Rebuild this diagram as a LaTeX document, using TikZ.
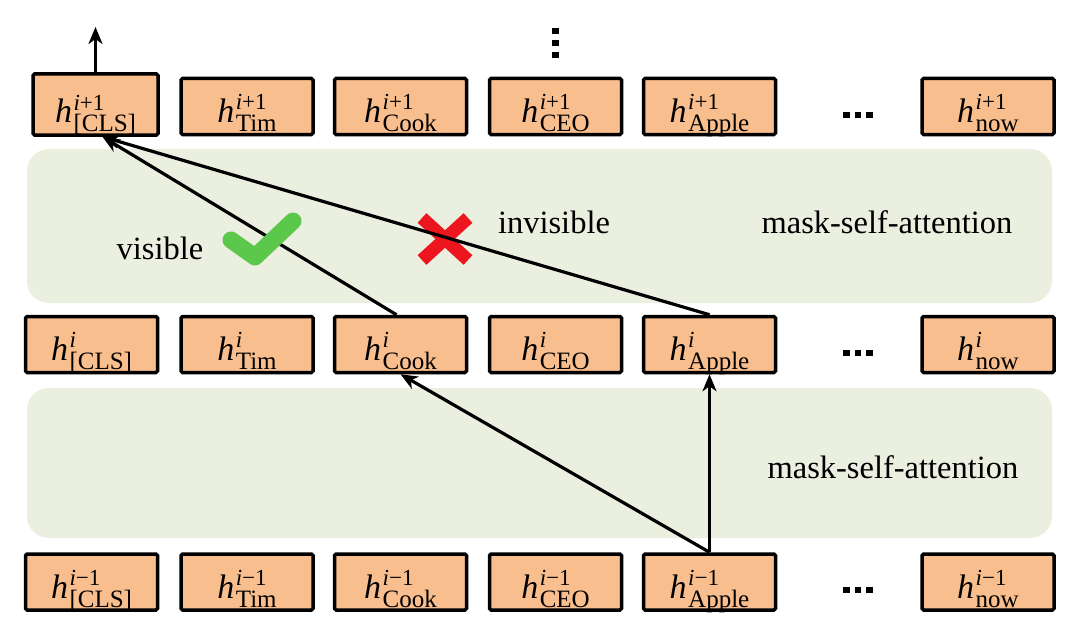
\documentclass[tikz,border=0pt]{standalone}
\usepackage{fontspec}
\setmainfont{Liberation Serif}
\usetikzlibrary{arrows.meta}
\definecolor{boxfill}{RGB}{249,190,141}
\definecolor{panelc}{RGB}{235,239,224}
\definecolor{okgreen}{RGB}{92,200,75}
\definecolor{nored}{RGB}{238,22,30}
\newcommand{\hv}[2]{{\fontsize{34}{40}\selectfont\itshape h}\kern1.5pt\rlap{\raisebox{13pt}{\fontsize{23}{26}\selectfont #1}}\raisebox{-9pt}{\fontsize{25}{28}\selectfont #2}}
\begin{document}
\begin{tikzpicture}[x=1pt,y=-1pt,
  hbox/.style={draw=black, line width=3.5pt, fill=boxfill, rounded corners=1.5pt,
    minimum width=132pt, inner sep=0pt, text height=44pt, text depth=12pt,
    font=\fontsize{30}{36}\selectfont},
  panelbox/.style={fill=panelc, rounded corners=22pt, inner sep=0pt, minimum width=1025pt},
  lbl/.style={font=\fontsize{32.5}{40}\selectfont, inner sep=0pt},
  arr/.style={line width=3.2pt, -{Stealth[length=17pt, width=14pt, inset=5pt]}},
  dotsq/.style={fill=black},
]
\useasboundingbox (0,0) rectangle (1080,642);

% panels
\node[panelbox, minimum height=154pt] (p1) at (539.5,226) {};
\node[panelbox, minimum height=150pt] (p2) at (539.5,463) {};

% top row
\node[hbox, minimum width=125pt, text height=49pt] (t1) at (95.5,104.5) {\hv{\textit{i}+1}{[CLS]}};
\foreach \n/\x/\s in {2/247/Tim, 3/400.5/Cook, 4/555.5/CEO, 5/709.5/Apple, 6/988/now}
  \node[hbox] (t\n) at (\x,106.5) {\hv{\textit{i}+1}{\s}};
% middle row
\node[hbox] (m1) at (91.5,344.5) {\hv{\textit{i}}{[CLS]}};
\foreach \n/\x/\s in {2/247/Tim, 3/400.5/Cook, 4/555.5/CEO, 5/709.5/Apple, 6/988/now}
  \node[hbox] (m\n) at (\x,344.5) {\hv{\textit{i}}{\s}};
% bottom row
\node[hbox] (b1) at (91.5,582) {\hv{\textit{i}−1}{[CLS]}};
\foreach \n/\x/\s in {2/247/Tim, 3/400.5/Cook, 4/555.5/CEO, 5/709.5/Apple, 6/988/now}
  \node[hbox] (b\n) at (\x,582) {\hv{\textit{i}−1}{\s}};

% dots
\foreach \y in {115,353,590}
  \foreach \x in {846.5,858,869.5}
    \fill[dotsq] (\x-3.3,\y-3.3) rectangle (\x+3.3,\y+3.3);
\foreach \y in {31,43,55}
  \fill[dotsq] (555.5-3.3,\y-3.3) rectangle (555.5+3.3,\y+3.3);

% red cross (under the line)
\draw[nored, line width=13pt] (422,218) -- (468,260);
\draw[nored, line width=13pt] (468,218) -- (422,260);

% connectors
\coordinate (out) at (95.5,27);
\coordinate (tip) at ([xshift=7pt]t1.south);
\draw[arr] (t1.north) -- (out);
\draw[arr] ([xshift=-4pt]m3.north) -- (tip);
\draw[arr] (m5.north) -- (tip);
\draw[arr] (b5.north) -- (m3.south);
\draw[arr] (b5.north) -- (m5.south);

% green check (over the line)
\draw[okgreen, line width=17pt, line cap=round, line join=round] (231,240) -- (255,257) -- (293,221);

% labels
\node[lbl] (vis) at (160,248) {visible};
\node[lbl] (invis) at (554,222) {invisible};
\node[lbl] (msa1) at (887,222) {mask-self-attention};
\node[lbl] (msa2) at (893,467) {mask-self-attention};
\end{tikzpicture}
\end{document}
